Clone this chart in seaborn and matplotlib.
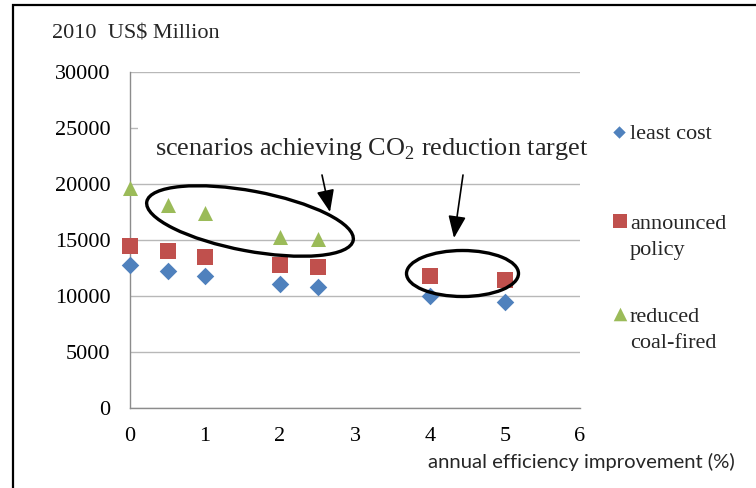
import matplotlib
matplotlib.use("Agg")
import matplotlib.pyplot as plt
import seaborn as sns
import pandas as pd
from matplotlib.patches import Ellipse, Rectangle, FancyArrowPatch

# ---- data ----
eff_lc = [0, 0.5, 1, 2, 2.5, 4, 5]
least_cost = [12800, 12200, 11800, 11100, 10800, 10000, 9500]
eff_ap = [0, 0.5, 1, 2, 2.5, 4, 5]
announced_policy = [14500, 14000, 13500, 12800, 12600, 11800, 11400]
eff_rc = [0, 0.5, 1, 2, 2.5]
reduced_coal = [19600, 18100, 17400, 15300, 15100]
y_ticks = [0, 5000, 10000, 15000, 20000, 25000, 30000]
x_ticks = [0, 1, 2, 3, 4, 5, 6]

BLUE, RED, GREEN = "#4F81BD", "#C0504D", "#9BBB59"
SERIF = "Liberation Serif"

sns.set_theme(style="white")
plt.rcParams["font.family"] = [SERIF, "DejaVu Serif"]
plt.rcParams["mathtext.fontset"] = "custom"
plt.rcParams["mathtext.rm"] = SERIF

W, H = 756, 488
fig = plt.figure(figsize=(W / 100, H / 100), dpi=100)
fig.patch.set_facecolor("white")

ax = fig.add_axes([130 / W, (H - 408) / H, 450 / W, 336 / H])

df_lc = pd.DataFrame({"x": eff_lc, "y": least_cost})
df_ap = pd.DataFrame({"x": eff_ap, "y": announced_policy})
df_rc = pd.DataFrame({"x": eff_rc, "y": reduced_coal})

kw = dict(linewidth=0, legend=False, clip_on=False, zorder=5)
sns.scatterplot(data=df_lc, x="x", y="y", ax=ax, marker="D", s=80, color=BLUE, **kw)
sns.scatterplot(data=df_ap, x="x", y="y", ax=ax, marker="s", s=117, color=RED, **kw)
sns.scatterplot(data=df_rc, x="x", y="y", ax=ax, marker="^", s=117, color=GREEN, **kw)

ax.set_xlim(0, 6)
ax.set_ylim(0, 30000)
ax.set_xticks(x_ticks)
ax.set_yticks(y_ticks)
ax.set_xlabel("")
ax.set_ylabel("")
ax.set_axisbelow(True)
ax.grid(axis="y", color="#B8B8B8", linewidth=1.0)
ax.grid(axis="x", visible=False)
for side in ["top", "right"]:
    ax.spines[side].set_visible(False)
for side in ["left", "bottom"]:
    ax.spines[side].set_color("#8C8C8C")
    ax.spines[side].set_linewidth(1.0)
ax.tick_params(axis="both", direction="inout", length=10, width=1.0,
               color="#8C8C8C", labelsize=16, labelcolor="black")
ax.tick_params(axis="y", pad=9)
ax.tick_params(axis="x", pad=9)
ax.patch.set_alpha(0)

# ---- overlay in pixel coordinates ----
ov = fig.add_axes([0, 0, 1, 1], zorder=10)
ov.set_xlim(0, W)
ov.set_ylim(H, 0)
ov.axis("off")
ov.patch.set_alpha(0)

# outer frame (top and left visible)
ov.plot([13, 13, W + 5], [H + 5, 5, 5], color="black", linewidth=1.6,
        solid_joinstyle="miter", clip_on=False)

# y unit label
ov.text(52, 39, "2010  US$ Million", fontsize=16, ha="left", va="baseline")

# annotation box
ov.add_patch(Rectangle((138, 110), 470, 64, facecolor="white", edgecolor="none", zorder=2))
ov.text(155, 155, r"scenarios achieving CO$_2$ reduction target",
        fontsize=18.9, ha="left", va="baseline", zorder=3)

# ellipses
ov.add_patch(Ellipse((250, 221), 210, 60, angle=10.6, fill=False,
                     edgecolor="black", linewidth=2.4, zorder=4))
ov.add_patch(Ellipse((462.5, 273.5), 112, 46, angle=0, fill=False,
                     edgecolor="black", linewidth=2.4, zorder=4))

# arrows
for (x0, y0), (x1, y1) in [((322, 175), (330, 212)), ((463, 175), (454, 238))]:
    ov.add_patch(FancyArrowPatch((x0, y0), (x1, y1),
                                 arrowstyle="-|>,head_length=0.75,head_width=0.3",
                                 mutation_scale=18, color="black",
                                 linewidth=1.2, shrinkA=0, shrinkB=0, zorder=4))

# legend (manual)
ov.scatter([619], [132], marker="D", s=40, color=BLUE, linewidth=0, zorder=4)
ov.scatter([620], [221], marker="s", s=115, color=RED, linewidth=0, zorder=4)
ov.scatter([620], [314], marker="^", s=95, color=GREEN, linewidth=0, zorder=4)
leg_lines = [("least cost", 139), ("announced", 229), ("policy", 255),
             ("reduced", 322), ("coal-fired", 348)]
for txt, yb in leg_lines:
    ov.text(630, yb, txt, fontsize=16, ha="left", va="baseline")

# x-axis title
ov.text(581, 462, "annual efficiency improvement (%)", fontsize=14.6,
        family=["Lato", "DejaVu Sans"], ha="center", va="center")

fig.savefig("out.png", dpi=100, facecolor="white")
